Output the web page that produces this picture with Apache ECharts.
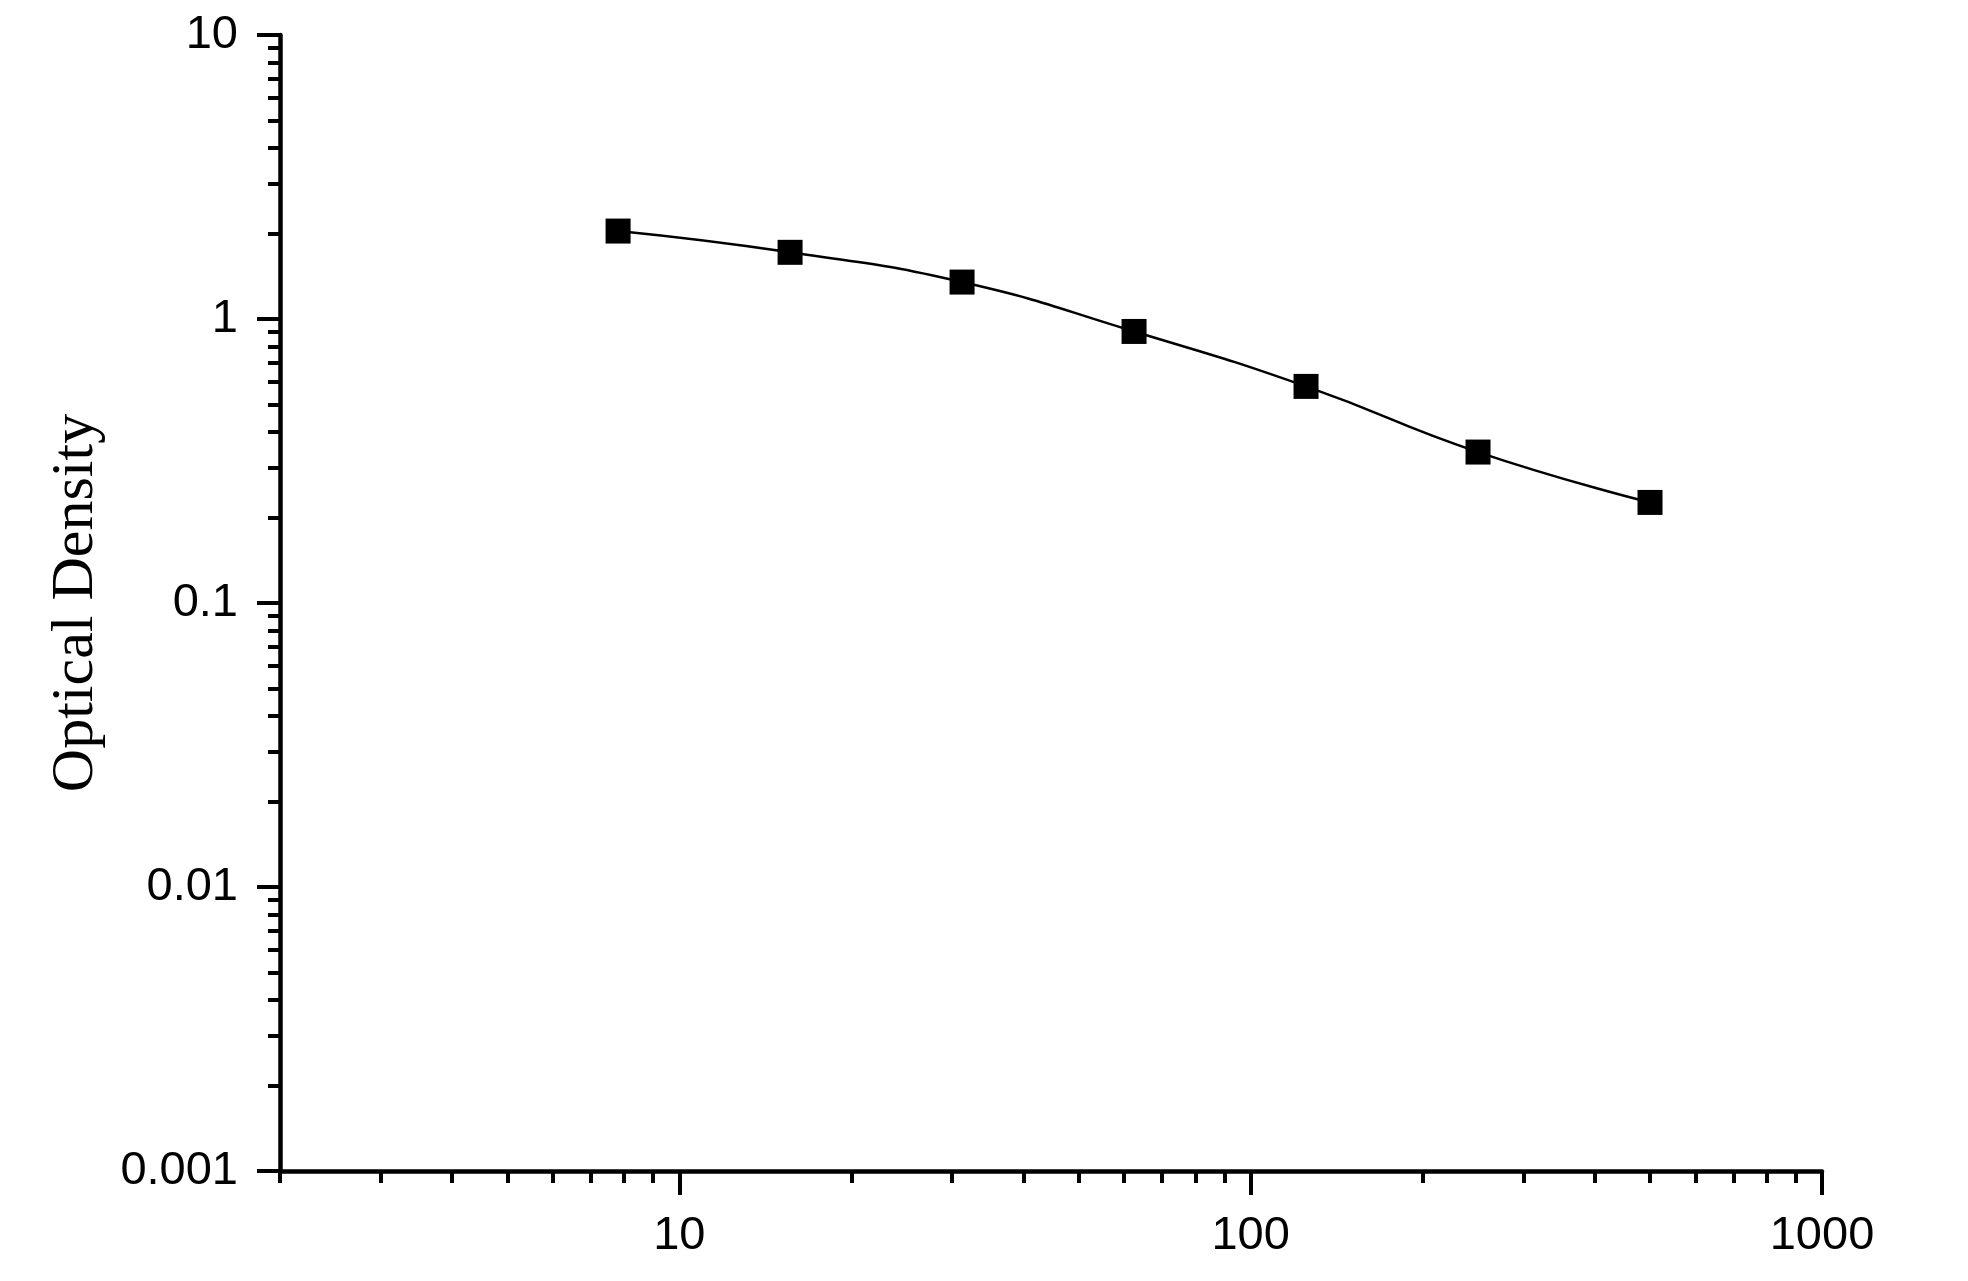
<!DOCTYPE html>
<html>
<head>
<meta charset="utf-8">
<title>Standard Curve</title>
<script src="https://cdn.jsdelivr.net/npm/echarts@6/dist/echarts.min.js"></script>
<style>
    html, body { margin: 0; padding: 0; background: #fff; }
    #chart { width: 1968px; height: 1281px; }
</style>
</head>
<body>
<div id="chart"></div>
<script>
// 표준 곡선 데이터
const concentrations = [7.8125, 15.625, 31.25, 62.5, 125, 250, 500];
const odValues = [2.04, 1.717, 1.349, 0.904, 0.579, 0.340, 0.226];

// 축 눈금
const xMajorTicks = [10, 100, 1000];
const xMinorTicks = [2, 3, 4, 5, 6, 7, 8, 9, 20, 30, 40, 50, 60, 70, 80, 90, 200, 300, 400, 500, 600, 700, 800, 900];
const yMajorTicks = [0.001, 0.01, 0.1, 1, 10];
const yMinorTicks = [];
[0.001, 0.01, 0.1, 1].forEach(function (base) {
    for (let k = 2; k <= 9; k++) yMinorTicks.push(+(base * k).toPrecision(6));
});

const yTitle = "Optical Density";

document.addEventListener("DOMContentLoaded", function () {
    const chart = echarts.init(document.getElementById("chart"));

    const labelFont = {
        fontFamily: "Liberation Sans, Arial, sans-serif",
        fontSize: 47,
        color: "#000"
    };

    function fmt(v) {
        return String(+Number(v).toPrecision(6));
    }

    chart.setOption({
        backgroundColor: "#fff",
        animation: false,
        grid: {
            left: 280,
            right: 146,
            top: 35,
            bottom: 110
        },
        xAxis: [
            {
                type: "log",
                position: "bottom",
                min: 2,
                max: 1000,
                axisLine: { show: true, lineStyle: { color: "#000", width: 4.5 } },
                axisTick: { show: true, length: 24, customValues: xMajorTicks, lineStyle: { color: "#000", width: 4 } },
                axisLabel: Object.assign({ margin: 42, customValues: xMajorTicks, formatter: fmt }, labelFont),
                splitLine: { show: false }
            },
            {
                // 보조 눈금 전용 축
                type: "log",
                position: "bottom",
                min: 2,
                max: 1000,
                axisLine: { show: false },
                axisTick: { show: true, length: 12, customValues: xMinorTicks, lineStyle: { color: "#000", width: 4 } },
                axisLabel: { show: false },
                splitLine: { show: false }
            }
        ],
        yAxis: [
            {
                type: "log",
                position: "left",
                min: 0.001,
                max: 10,
                name: yTitle,
                nameLocation: "middle",
                nameGap: 174,
                nameTextStyle: {
                    fontFamily: "Liberation Serif, Times New Roman, serif",
                    fontSize: 60,
                    color: "#000"
                },
                axisLine: { show: true, lineStyle: { color: "#000", width: 4.5 } },
                axisTick: { show: true, length: 23, customValues: yMajorTicks, lineStyle: { color: "#000", width: 4 } },
                axisLabel: Object.assign({ margin: 42, customValues: yMajorTicks, formatter: fmt }, labelFont),
                splitLine: { show: false }
            },
            {
                type: "log",
                position: "left",
                min: 0.001,
                max: 10,
                axisLine: { show: false },
                axisTick: { show: true, length: 12, customValues: yMinorTicks, lineStyle: { color: "#000", width: 4 } },
                axisLabel: { show: false },
                splitLine: { show: false }
            }
        ],
        series: [
            {
                name: "OD",
                type: "line",
                xAxisIndex: 0,
                yAxisIndex: 0,
                data: concentrations.map(function (c, i) { return [c, odValues[i]]; }),
                smooth: 0.5,
                symbol: "rect",
                symbolSize: 25,
                showAllSymbol: true,
                lineStyle: { color: "#000", width: 2.5 },
                itemStyle: { color: "#000" }
            }
        ]
    });

    window.addEventListener("resize", function () {
        chart.resize();
    });
});
</script>
</body>
</html>
